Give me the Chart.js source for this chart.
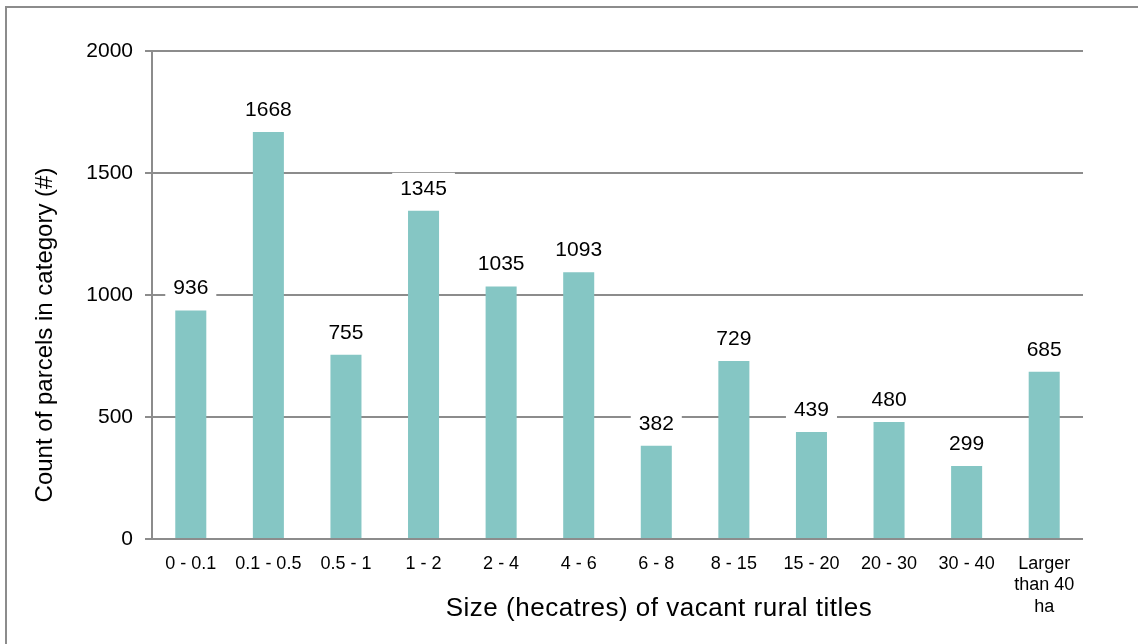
<!DOCTYPE html>
<html>
<head>
<meta charset="utf-8">
<script src="https://cdn.jsdelivr.net/npm/chart.js@4.4.1/dist/chart.umd.min.js"></script>
<style>
  body { margin: 0; background: #fff; }
  #frame {
    position: absolute; left: 5px; top: 6px; width: 1200px; height: 700px;
    border-left: 2px solid #8c8c8c; border-top: 2px solid #8c8c8c;
  }
  #wrap { position: absolute; left: 0; top: 0; width: 1138px; height: 644px; }
</style>
</head>
<body>
<div id="frame"></div>
<div id="wrap"><canvas id="myChart" width="1138" height="644"></canvas></div>
<script>
const categories = ["0 - 0.1", "0.1 - 0.5", "0.5 - 1", "1 - 2", "2 - 4", "4 - 6", "6 - 8", "8 - 15", "15 - 20", "20 - 30", "30 - 40", ["Larger", "than 40", "ha"]];
const parcelCounts = [936, 1668, 755, 1345, 1035, 1093, 382, 729, 439, 480, 299, 685];
const yTicks = [0, 500, 1000, 1500, 2000];
const xTitle = "Size (hecatres) of vacant rural titles";
const yTitle = "Count of parcels in category (#)";

const fontFamily = "'Liberation Sans', Arial, Helvetica, sans-serif";
const gray = "#8c8c8c";

// value labels with a white box that cuts the gridlines, as in the original
const valueLabels = {
    id: "valueLabels",
    afterDatasetsDraw(chart) {
        const c = chart.ctx;
        const meta = chart.getDatasetMeta(0);
        c.save();
        c.font = "21px " + fontFamily;
        c.textAlign = "center";
        c.textBaseline = "middle";
        meta.data.forEach((bar, i) => {
            const txt = String(parcelCounts[i]);
            const w = c.measureText(txt).width;
            const cy = bar.y - 22;
            c.fillStyle = "#fff";
            c.fillRect(bar.x - w / 2 - 8, cy - 16, w + 16, 28);
            c.fillStyle = "#000";
            c.fillText(txt, bar.x, cy);
        });
        c.restore();
    },
};

// axis titles placed where the original has them
const axisTitles = {
    id: "axisTitles",
    afterDraw(chart) {
        const c = chart.ctx;
        c.save();
        c.fillStyle = "#000";
        c.textAlign = "center";
        c.textBaseline = "middle";
        c.font = "26px " + fontFamily;
        c.letterSpacing = "0.5px";
        c.fillText(xTitle, 659, 609);
        c.letterSpacing = "0px";
        c.translate(45, 335);
        c.rotate(-Math.PI / 2);
        c.font = "24px " + fontFamily;
        c.fillText(yTitle, 0, 0);
        c.restore();
    },
};

const ctx = document.getElementById("myChart").getContext("2d");
const myChart = new Chart(ctx, {
    type: "bar",
    data: {
        labels: categories,
        datasets: [
            {
                data: parcelCounts,
                backgroundColor: "#85c6c4",
                borderWidth: 0,
                categoryPercentage: 1,
                barPercentage: 0.4,
            },
        ],
    },
    options: {
        responsive: false,
        animation: false,
        layout: { padding: { left: 0, right: 55, top: 51, bottom: 0 } },
        plugins: {
            legend: { display: false },
            tooltip: { enabled: false },
        },
        scales: {
            x: {
                grid: { display: false },
                border: { display: false },
                ticks: {
                    autoSkip: false,
                    maxRotation: 0,
                    minRotation: 0,
                    padding: 6,
                    color: "#000",
                    font: { family: fontFamily, size: 18, lineHeight: 1.2 },
                },
                afterFit(scale) { scale.height = 105; },
            },
            y: {
                min: 0,
                max: 2000,
                afterBuildTicks(scale) { scale.ticks = yTicks.map(v => ({ value: v })); },
                grid: { color: gray, lineWidth: 2, drawTicks: true, tickLength: 7, tickColor: gray },
                border: { display: true, color: gray, width: 2 },
                ticks: {
                    padding: 12,
                    color: "#000",
                    font: { family: fontFamily, size: 21 },
                    callback: (v) => String(v),
                },
                afterFit(scale) { scale.width = 152; },
            },
        },
    },
    plugins: [valueLabels, axisTitles],
});
</script>
</body>
</html>
